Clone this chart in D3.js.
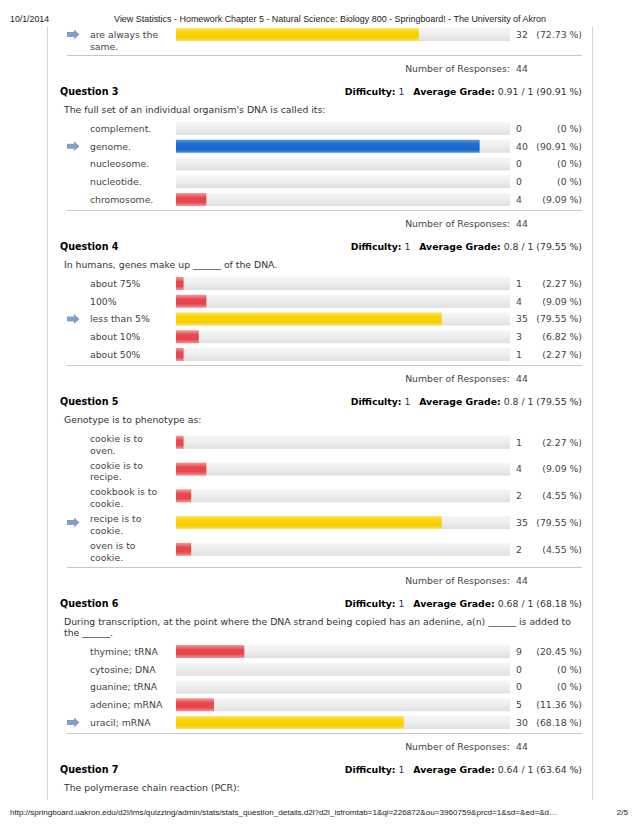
<!DOCTYPE html>
<html>
<head>
<meta charset="utf-8">
<script src="https://cdn.jsdelivr.net/npm/d3@7"></script>
<style>
  html, body { margin: 0; padding: 0; background: #fff; }
  svg { display: block; }
</style>
</head>
<body>
<svg id="chart" width="638" height="826"></svg>
<script>
// ---------------- DATA ----------------
const headerDate = "10/1/2014";
const headerTitle = "View Statistics - Homework Chapter 5 - Natural Science: Biology 800 - Springboard! - The University of Akron";
const footerUrl = "http://springboard.uakron.edu/d2l/lms/quizzing/admin/stats/stats_question_details.d2l?d2l_isfromtab=1&qi=226872&ou=3960759&prcd=1&sd=&ed=&d\u2026";
const footerPage = "2/5";
const responses = 44;

// tail of question 2 (only last option visible)
const q2Options = [["are always the", "same."]];
const q2Counts = [32];
const q2Percents = [72.73];
const q2Correct = 0;

const questionNames = ["Question 3", "Question 4", "Question 5", "Question 6", "Question 7"];
const questionTexts = [
  ["The full set of an individual organism's DNA is called its:"],
  ["In humans, genes make up ______ of the DNA."],
  ["Genotype is to phenotype as:"],
  ["During transcription, at the point where the DNA strand being copied has an adenine, a(n) ______ is added to", "the ______."],
  ["The polymerase chain reaction (PCR):"]
];
const difficulties = [1, 1, 1, 1, 1];
const avgGrades = [0.91, 0.8, 0.8, 0.68, 0.64];
const avgPercents = [90.91, 79.55, 79.55, 68.18, 63.64];

const q3Options = ["complement.", "genome.", "nucleosome.", "nucleotide.", "chromosome."];
const q3Counts = [0, 40, 0, 0, 4];
const q3Percents = [0, 90.91, 0, 0, 9.09];
const q3Correct = 1;

const q4Options = ["about 75%", "100%", "less than 5%", "about 10%", "about 50%"];
const q4Counts = [1, 4, 35, 3, 1];
const q4Percents = [2.27, 9.09, 79.55, 6.82, 2.27];
const q4Correct = 2;

const q5Options = [["cookie is to", "oven."], ["cookie is to", "recipe."], ["cookbook is to", "cookie."], ["recipe is to", "cookie."], ["oven is to", "cookie."]];
const q5Counts = [1, 4, 2, 35, 2];
const q5Percents = [2.27, 9.09, 4.55, 79.55, 4.55];
const q5Correct = 3;

const q6Options = ["thymine; tRNA", "cytosine; DNA", "guanine; tRNA", "adenine; mRNA", "uracil; mRNA"];
const q6Counts = [9, 0, 0, 5, 30];
const q6Percents = [20.45, 0, 0, 11.36, 68.18];
const q6Correct = 4;

// ---------------- DRAWING ----------------
const svg = d3.select("#chart");
const FONT = "'DejaVu Sans', Verdana, sans-serif";
const HFONT = "'Liberation Sans', Arial, sans-serif";
const FS = 9.3;

const x = d3.scaleLinear().domain([0, responses]).range([176, 510]);

// gradients
const defs = svg.append("defs");
function grad(id, stops) {
  const g = defs.append("linearGradient").attr("id", id).attr("x1", 0).attr("y1", 0).attr("x2", 0).attr("y2", 1);
  stops.forEach(s => g.append("stop").attr("offset", s[0]).attr("stop-color", s[1]));
}
grad("gTrack", [[0, "#f6f6f6"], [0.5, "#ededed"], [1, "#e0e0e0"]]);
grad("gBlue", [[0, "#5a9ae6"], [0.3, "#1d6fd2"], [0.75, "#1766c8"], [1, "#4c8fe0"]]);
grad("gYellow", [[0, "#fbe46a"], [0.3, "#fbd400"], [0.75, "#f7ce00"], [1, "#fbe26a"]]);
grad("gRed", [[0, "#f59a9a"], [0.35, "#e8474d"], [0.7, "#e5454b"], [1, "#f29496"]]);

// header / footer
svg.append("text").attr("x", 10).attr("y", 19).attr("dy", "0.35em")
  .attr("font-family", HFONT).attr("font-size", 8.8).attr("fill", "#222").text(headerDate);
svg.append("text").attr("x", 330).attr("y", 19).attr("dy", "0.35em").attr("text-anchor", "middle")
  .attr("font-family", HFONT).attr("font-size", 8.95).attr("fill", "#222").text(headerTitle);
svg.append("text").attr("x", 10).attr("y", 812).attr("dy", "0.35em")
  .attr("font-family", HFONT).attr("font-size", 8.1).attr("fill", "#222").text(footerUrl);
svg.append("text").attr("x", 628).attr("y", 812).attr("dy", "0.35em").attr("text-anchor", "end")
  .attr("font-family", HFONT).attr("font-size", 8.1).attr("fill", "#222").text(footerPage);

// page box borders
svg.append("line").attr("x1", 47.5).attr("x2", 47.5).attr("y1", 27).attr("y2", 800).attr("stroke", "#d4d4d4");
svg.append("line").attr("x1", 592.5).attr("x2", 592.5).attr("y1", 27).attr("y2", 800).attr("stroke", "#d4d4d4");

const fmt = v => String(v);

function arrow(g, cx, cy) {
  const path = d3.path();
  path.moveTo(cx - 6, cy - 2.5);
  path.lineTo(cx + 1, cy - 2.5);
  path.lineTo(cx + 1, cy - 5);
  path.lineTo(cx + 6.5, cy);
  path.lineTo(cx + 1, cy + 5);
  path.lineTo(cx + 1, cy + 2.5);
  path.lineTo(cx - 6, cy + 2.5);
  path.closePath();
  g.append("path").attr("d", path.toString()).attr("fill", "#7d9fcf");
}

function drawRows(startY, options, counts, percents, correct, twoLineBarOffset) {
  let y = startY;
  let lastLine = y;
  options.forEach((opt, i) => {
    const lines = Array.isArray(opt) ? opt : [opt];
    const g = svg.append("g");
    const barY = y + (lines.length - 1) * twoLineBarOffset;
    lines.forEach((ln, k) => {
      g.append("text").attr("x", 90).attr("y", y + k * 11.8).attr("dy", "0.35em")
        .attr("font-family", FONT).attr("font-size", FS).attr("fill", "#444").text(ln);
    });
    if (i === correct) arrow(g, 73, barY);
    // track
    g.append("rect").attr("x", x(0)).attr("y", barY - 6.5).attr("width", x(responses) - x(0)).attr("height", 13)
      .attr("fill", "url(#gTrack)");
    // bar
    if (counts[i] > 0) {
      const fill = i === correct ? (percents[i] >= 90 ? "url(#gBlue)" : "url(#gYellow)") : "url(#gRed)";
      g.append("rect").attr("x", x(0)).attr("y", barY - 6.5).attr("width", x(counts[i]) - x(0)).attr("height", 13)
        .attr("fill", fill);
    }
    g.append("text").attr("x", 516).attr("y", barY).attr("dy", "0.35em")
      .attr("font-family", FONT).attr("font-size", FS).attr("fill", "#444").text(counts[i]);
    g.append("text").attr("x", 582).attr("y", barY).attr("dy", "0.35em").attr("text-anchor", "end")
      .attr("font-family", FONT).attr("font-size", FS).attr("fill", "#444").text("(" + fmt(percents[i]) + " %)");
    lastLine = y + (lines.length - 1) * 11.8;
    y += lines.length === 1 ? 17.75 : 26.75;
  });
  return lastLine;
}

function footerOfSection(lastLine) {
  const sepY = Math.round(lastLine + 10) + 0.5;
  svg.append("line").attr("x1", 67).attr("x2", 582).attr("y1", sepY).attr("y2", sepY).attr("stroke", "#c8c8c8");
  const nY = sepY + 13;
  svg.append("text").attr("x", 510).attr("y", nY).attr("dy", "0.35em").attr("text-anchor", "end")
    .attr("font-family", FONT).attr("font-size", FS).attr("fill", "#444").text("Number of Responses:");
  svg.append("text").attr("x", 516).attr("y", nY).attr("dy", "0.35em")
    .attr("font-family", FONT).attr("font-size", FS).attr("fill", "#444").text(responses);
  return nY;
}

function drawHeading(i, y) {
  svg.append("text").attr("x", 60).attr("y", y).attr("dy", "0.35em")
    .attr("font-family", FONT).attr("font-size", 9.6).attr("font-weight", "bold").attr("fill", "#000").text(questionNames[i]);
  const t = svg.append("text").attr("x", 582).attr("y", y).attr("dy", "0.35em").attr("text-anchor", "end")
    .attr("font-family", FONT).attr("font-size", FS).attr("fill", "#333");
  t.append("tspan").attr("font-weight", "bold").attr("fill", "#000").text("Difficulty:");
  t.append("tspan").text("\u00a0" + difficulties[i] + "\u00a0\u00a0\u00a0");
  t.append("tspan").attr("font-weight", "bold").attr("fill", "#000").text("Average Grade:");
  t.append("tspan").text("\u00a0" + avgGrades[i] + " / 1 (" + fmt(avgPercents[i]) + " %)");
  const qy = y + 18;
  questionTexts[i].forEach((ln, k) => {
    svg.append("text").attr("x", 64).attr("y", qy + k * 11).attr("dy", "0.35em")
      .attr("font-family", FONT).attr("font-size", FS).attr("fill", "#333").text(ln);
  });
  return qy + (questionTexts[i].length - 1) * 11;
}

// Q2 tail
let last = drawRows(34.5, q2Options, q2Counts, q2Percents, q2Correct, 0);
let nY = footerOfSection(last - 1);

const sections = [
  [q3Options, q3Counts, q3Percents, q3Correct],
  [q4Options, q4Counts, q4Percents, q4Correct],
  [q5Options, q5Counts, q5Percents, q5Correct],
  [q6Options, q6Counts, q6Percents, q6Correct]
];
sections.forEach((s, i) => {
  const qLast = drawHeading(i, nY + 23.5);
  const l = drawRows(qLast + 18.5, s[0], s[1], s[2], s[3], 3.8);
  nY = footerOfSection(l);
});
drawHeading(4, nY + 23.5);
</script>
</body>
</html>
